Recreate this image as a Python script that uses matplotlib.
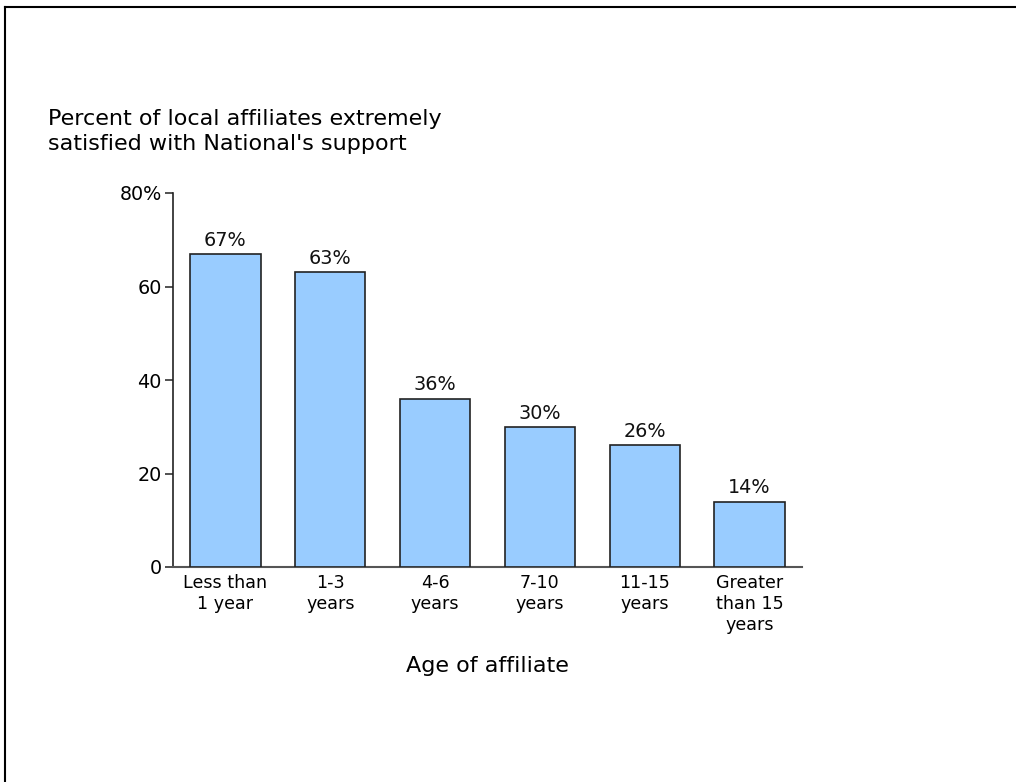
import matplotlib
matplotlib.use('Agg')
import matplotlib.pyplot as plt
from matplotlib.lines import Line2D

categories = ["Less than\n1 year", "1-3\nyears", "4-6\nyears", "7-10\nyears",
              "11-15\nyears", "Greater\nthan 15\nyears"]
values = [67, 63, 36, 30, 26, 14]
bar_labels = ["67%", "63%", "36%", "30%", "26%", "14%"]
ytick_vals = [0, 20, 40, 60, 80]
ytick_labels = ["0", "20", "40", "60", "80%"]

plt.rcParams['font.family'] = ['DejaVu Sans']

W, H = 1016, 782
fig = plt.figure(figsize=(W / 100, H / 100), dpi=100)

# axes placed in pixel terms: x 173..802, y 193..567
ax = fig.add_axes([173 / W, 1 - 567 / H, (802 - 173) / W, (567 - 193) / H])

x = list(range(len(values)))
ax.bar(x, values, width=0.67, color='#99ccff', edgecolor='#222222', linewidth=1.2, zorder=3)
for xi, v, lab in zip(x, values, bar_labels):
    ax.text(xi, v + 0.9, lab, ha='center', va='bottom', fontsize=13.8, color='#111111')

ax.set_xlim(-0.5, len(values) - 0.5)
ax.set_ylim(0, 80)
ax.set_yticks(ytick_vals)
ax.set_yticklabels(ytick_labels, fontsize=13.8)
ax.set_xticks(x)
ax.set_xticklabels(categories, fontsize=12.6, linespacing=1.2)
ax.tick_params(axis='x', length=0, pad=5)
ax.tick_params(axis='y', length=6, width=1.2, color='#333333', pad=2)

for s in ['top', 'right']:
    ax.spines[s].set_visible(False)
ax.spines['left'].set_color('#222222')
ax.spines['left'].set_linewidth(1.2)
ax.spines['bottom'].set_color('#555555')
ax.spines['bottom'].set_linewidth(1.5)

ax.set_xlabel("Age of affiliate", fontsize=16, labelpad=16)

fig.text(48 / W, 1 - 109 / H, "Percent of local affiliates extremely\nsatisfied with National's support",
         ha='left', va='top', fontsize=16, linespacing=1.33)

# outer frame (left and top edges)
fig.add_artist(Line2D([4.5 / W, 4.5 / W], [0, 1 - 7 / H], transform=fig.transFigure,
                      color='black', linewidth=1.5))
fig.add_artist(Line2D([4.5 / W, 1], [1 - 7 / H, 1 - 7 / H], transform=fig.transFigure,
                      color='black', linewidth=1.5))

fig.savefig('out.png', dpi=100)
